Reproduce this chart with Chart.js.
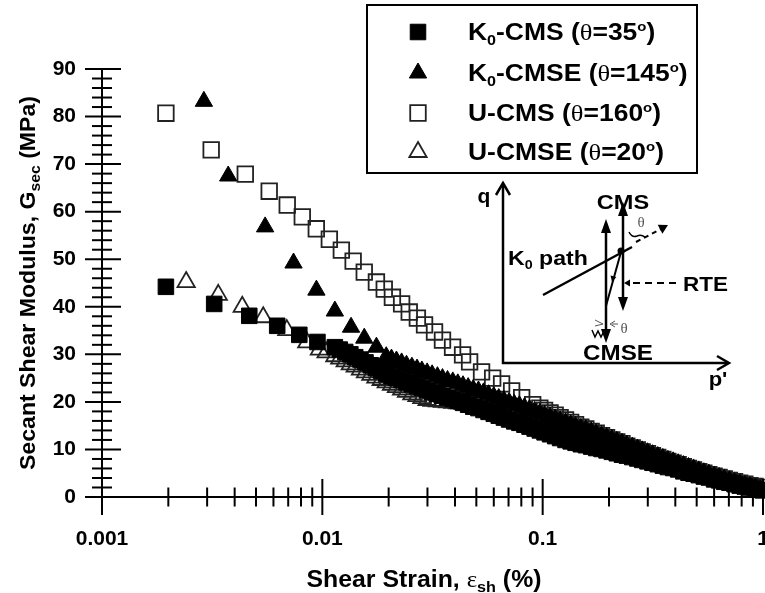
<!DOCTYPE html>
<html><head><meta charset="utf-8">
<script src="https://cdn.jsdelivr.net/npm/chart.js"></script>
<style>html,body{margin:0;padding:0;background:#fff}#wrap{width:765px;height:593px}</style>
</head><body><div id="wrap"><canvas id="c" width="765" height="593"></canvas></div>
<script>
const FAM = '"Liberation Sans", Arial, Helvetica, sans-serif';
const SERIF = '"Liberation Serif", "DejaVu Serif", serif';

// ---- Data (shear strain in %, secant shear modulus in MPa) ----
const strainK0CMS = [0.00195,0.00323,0.00466,0.00624,0.00786,0.0095,
  0.0114,0.0120,0.0127,0.0134,0.0141,0.0149,0.0157,0.0166,0.0175,0.0185,0.0195,0.0206,0.0217,0.0229,0.0241,0.0255,0.0269,0.0283,0.0299,0.0315,
  0.0333,0.0351,0.0370,0.0391,0.0412,0.0435,0.0459,0.0484,0.0511,0.0539,0.0568,0.0600,0.0632,0.0667,0.0704,0.0743,0.0784,0.0827,0.0872,0.0920,
  0.0971,0.102,0.108,0.114,0.120,0.127,0.134,0.141,0.149,0.157,0.166,0.175,0.185,0.195,0.206,0.217,0.229,0.241,0.255,0.269,
  0.283,0.299,0.315,0.333,0.351,0.370,0.391,0.412,0.435,0.459,0.484,0.511,0.539,0.568,0.600,0.632,0.667,0.704,0.743,0.784,
  0.827,0.872,0.920,0.971,1.0];
const gK0CMS = [44.2,40.6,38.1,36.0,34.1,32.6,
  31.5,31.0,30.5,30.0,29.4,28.9,28.3,27.7,27.1,26.5,
  25.9,25.4,25.0,24.6,24.1,23.7,23.3,22.9,22.5,22.1,
  21.7,21.3,20.9,20.6,20.2,19.8,19.4,19.0,18.7,18.3,
  17.9,17.5,17.1,16.7,16.3,15.9,15.6,15.2,14.8,14.4,
  14.0,13.6,13.2,12.8,12.4,12.0,11.7,11.4,11.1,10.9,
  10.6,10.3,10.1,9.8,9.5,9.2,8.9,8.7,8.4,8.1,
  7.8,7.5,7.2,6.9,6.6,6.3,6.1,5.8,5.4,5.1,
  4.9,4.6,4.3,4.1,3.7,3.5,3.2,3.0,2.7,2.4,
  2.2,2.0,1.7,1.5,1.4];

const strainK0CMSE = [0.0029,0.00374,0.0055,0.0074,0.0094,0.0114,0.0135,0.0155,0.0176,
  0.0195,0.0206,0.0217,0.0229,0.0241,0.0255,0.0269,0.0283,0.0299,0.0315,
  0.0333,0.0351,0.0370,0.0391,0.0412,0.0435,0.0459,0.0484,0.0511,0.0539,
  0.0568,0.0600,0.0632,0.0667,0.0704,0.0743,0.0784,0.0827,0.0872,0.0920,
  0.0971,0.102,0.108,0.114,0.120,0.127,0.134,0.141,0.149,0.157,
  0.166,0.175,0.185,0.195,0.206,0.217,0.229,0.241,0.255,0.269,
  0.283,0.299,0.315,0.333,0.351,0.370,0.391,0.412,0.435,0.459,
  0.484,0.511,0.539,0.568,0.600,0.632,0.667,0.704,0.743,0.784,
  0.827,0.872,0.920,0.971];
const gK0CMSE = [83.2,67.5,56.8,49.2,43.5,39.1,35.7,33.4,31.5,
  29.5,29.0,28.6,28.2,27.7,27.3,26.9,26.5,26.1,25.7,
  25.3,24.9,24.5,24.2,23.8,23.4,23.0,22.6,22.3,21.9,
  21.5,21.1,20.7,20.3,19.9,19.5,19.2,18.8,18.4,18.0,
  17.6,17.2,16.8,16.4,16.0,15.6,15.2,14.8,14.4,14.1,
  13.7,13.3,12.9,12.5,12.1,11.7,11.3,10.9,10.5,10.1,
  9.7,9.3,8.9,8.5,8.1,7.7,7.4,7.0,6.6,6.2,
  5.9,5.5,5.1,4.8,4.4,4.1,3.7,3.4,3.0,2.7,
  2.4,2.1,1.8,1.5];

const strainUCMS = [0.00195,0.00313,0.00447,0.00574,0.00693,0.00811,0.00939,0.01076,0.0122,0.0138,
  0.0155,0.0176,0.0191,0.0208,0.0229,0.0248,0.027,0.0291,0.0323,0.0351,0.039,0.0433,0.0466,0.0528,
  0.0593,0.0651,0.0723,0.0803,0.0901,
  0.0971,0.102,0.108,0.114,0.120,0.127,0.134,0.141,0.149,0.157,
  0.166,0.175,0.185,0.195,0.206,0.217,0.229,0.241,0.255,0.269,
  0.283,0.299,0.315,0.333,0.351,0.370,0.391,0.412,0.435,0.459,
  0.484,0.511,0.539,0.568,0.600,0.632,0.667,0.704,0.743,0.784,
  0.827,0.872,0.920,0.971];
const gUCMS = [80.7,73.0,67.9,64.3,61.4,58.9,56.4,54.2,51.9,49.6,
  47.3,45.2,43.7,42.0,40.6,38.9,37.6,36.2,34.7,33.0,31.5,29.9,28.4,26.3,
  25.0,23.8,22.3,20.9,19.4,
  18.7,18.2,17.7,17.2,16.7,16.2,15.7,15.2,14.7,14.3,
  13.8,13.4,12.9,12.5,12.0,11.6,11.2,10.7,10.3,9.9,
  9.5,9.1,8.7,8.3,7.9,7.5,7.1,6.8,6.4,6.0,
  5.7,5.3,5.0,4.7,4.4,4.1,3.8,3.5,3.2,2.9,
  2.7,2.4,2.2,2.0];

const strainUCMSE = [0.00241,0.00337,0.00433,0.00539,0.0069,0.0085,0.0097,0.0104,
  0.0114,0.0120,0.0127,0.0134,0.0141,0.0149,0.0157,0.0166,0.0175,0.0185,
  0.0195,0.0206,0.0217,0.0229,0.0241,0.0255,0.0269,0.0283,0.0299,0.0315,
  0.0333,0.0351,0.0370,0.0391,0.0412,0.0435,0.0459,0.0484,0.0511,0.0539,
  0.0568,0.0600,0.0632,0.0667,0.0704,0.0743,0.0784,0.0827,0.0872,0.0920,
  0.0971,0.102,0.108,0.114,0.120,0.127,0.134,0.141,0.149,0.157,
  0.166,0.175,0.185,0.195,0.206,0.217,0.229,0.241,0.255,0.269,
  0.283,0.299,0.315,0.333,0.351,0.370,0.391,0.412,0.435,0.459,
  0.484,0.511,0.539,0.568,0.600,0.632,0.667,0.704,0.743,0.784,
  0.827,0.872,0.920,0.971];
const gUCMSE = [45.2,42.5,40.0,37.8,35.1,32.5,31.0,30.4,
  29.6,29.1,28.5,27.9,27.4,26.8,26.2,25.7,25.1,24.6,
  24.1,23.6,23.1,22.6,22.1,21.6,21.2,20.8,20.4,
  20.2,20.1,20.0,19.9,19.8,19.7,19.6,19.5,19.4,19.3,19.2,
  19.0,18.8,18.5,18.2,17.9,17.6,17.3,16.9,16.6,16.2,
  15.8,15.4,15.0,14.6,14.2,13.8,13.5,13.1,12.8,12.5,
  12.2,11.8,11.5,11.2,10.8,10.5,10.1,9.8,9.5,9.1,
  8.8,8.4,8.1,7.7,7.4,7.0,6.8,6.4,6.0,5.7,
  5.4,5.1,4.7,4.5,4.1,3.8,3.5,3.2,2.9,2.6,
  2.3,2.1,1.8,1.6];

// ---- Axes ----
const xMajorTicks = [0.001, 0.01, 0.1, 1];
const xTickLabels = ['0.001', '0.01', '0.1', '1'];
const yTickValues = [0, 10, 20, 30, 40, 50, 60, 70, 80, 90];
const yTickLabels = ['0', '10', '20', '30', '40', '50', '60', '70', '80', '90'];

// ---- Legend text ----
const legendPrefix = ['K', 'K', 'U', 'U'];
const legendSub = ['0', '0', '', ''];
const legendName = ['-CMS', '-CMSE', '-CMS', '-CMSE'];
const legendAngle = ['35', '145', '160', '20'];

const B = s => `bold ${s}px ${FAM}`;
const N = s => `${s}px ${SERIF}`;
const pts = (xs, ys) => xs.map((x, i) => ({x: x, y: ys[i]}));

function drawRuns(ctx, runs, x, y, align, sx) {
  sx = sx || 1;
  let total = 0;
  runs.forEach(r => { ctx.font = r.font; r.w = ctx.measureText(r.text).width; total += r.w; });
  const tw = total * sx;
  const start = align === 'center' ? x - tw / 2 : (align === 'right' ? x - tw : x);
  ctx.save(); ctx.translate(start, y); ctx.scale(sx, 1);
  ctx.textAlign = 'left'; ctx.textBaseline = 'alphabetic';
  let cx = 0;
  runs.forEach(r => { ctx.font = r.font; ctx.fillStyle = r.color || '#000'; ctx.fillText(r.text, cx, r.dy || 0); cx += r.w; });
  ctx.restore();
}
function line(ctx, x1, y1, x2, y2) { ctx.beginPath(); ctx.moveTo(x1, y1); ctx.lineTo(x2, y2); ctx.stroke(); }
function head(ctx, x1, y1, x2, y2, len, half, filled) {
  const a = Math.atan2(y2 - y1, x2 - x1);
  const bx = x2 - len * Math.cos(a), by = y2 - len * Math.sin(a);
  const px = -Math.sin(a) * half, py = Math.cos(a) * half;
  ctx.beginPath(); ctx.moveTo(bx + px, by + py); ctx.lineTo(x2, y2); ctx.lineTo(bx - px, by - py);
  if (filled) { ctx.closePath(); ctx.fill(); } else { ctx.stroke(); }
}

const datasetsStyle = [
  {pointStyle: 'rect', radius: 11, bg: '#000', border: '#000', bw: 1},
  {pointStyle: 'triangle', radius: 10, bg: '#000', border: '#000', bw: 1},
  {pointStyle: 'rect', radius: 11, bg: 'rgba(0,0,0,0)', border: '#222', bw: 1.8},
  {pointStyle: 'triangle', radius: 10, bg: 'rgba(0,0,0,0)', border: '#222', bw: 1.8}
];
const seriesData = [pts(strainK0CMS, gK0CMS), pts(strainK0CMSE, gK0CMSE), pts(strainUCMS, gUCMS), pts(strainUCMSE, gUCMSE)];
const seriesLabels = legendPrefix.map((p, i) => p + legendSub[i] + legendName[i] + ' (θ=' + legendAngle[i] + 'o)');

const decor = {
  id: 'decor',
  afterDraw(chart) {
    const ctx = chart.ctx, xs = chart.scales.x, ys = chart.scales.y;
    ctx.save();
    // crossing tick marks
    ctx.strokeStyle = '#000'; ctx.lineWidth = 2;
    const y0 = ys.getPixelForValue(0), x0 = xs.getPixelForValue(xMajorTicks[0]);
    xMajorTicks.forEach(v => { const p = xs.getPixelForValue(v); line(ctx, p, y0 - 18, p, y0 + 18); });
    xMajorTicks.slice(0, -1).forEach(d => { for (let k = 2; k <= 9; k++) { const p = xs.getPixelForValue(d * k); line(ctx, p, y0 - 9.5, p, y0 + 9.5); } });
    yTickValues.forEach(v => { const p = ys.getPixelForValue(v); line(ctx, x0 - 17, p, x0 + 19, p); });
    for (let v = 2; v < 90; v += 2) { if (v % 10) { const p = ys.getPixelForValue(v); line(ctx, x0 - 10, p, x0 + 10, p); } }

    // axis titles
    ctx.save(); ctx.translate(27, 283); ctx.rotate(-Math.PI / 2);
    drawRuns(ctx, [{text: 'Secant Shear Modulus, G', font: B(22)}, {text: 'sec', font: B(15), dy: 5}, {text: ' (MPa)', font: B(22)}], 0, 8, 'center', 1.05);
    ctx.restore();
    drawRuns(ctx, [{text: 'Shear Strain, ', font: B(23)}, {text: 'ε', font: N(23)}, {text: 'sh', font: B(15), dy: 5}, {text: ' (%)', font: B(23)}], 424, 587, 'center', 1.08);

    // legend
    ctx.fillStyle = '#fff'; ctx.fillRect(367, 5, 330, 168);
    ctx.strokeStyle = '#000'; ctx.lineWidth = 2; ctx.strokeRect(367, 5, 330, 168);
    const rowsY = [32, 73, 113, 152];
    datasetsStyle.forEach((s, i) => {
      ctx.fillStyle = s.bg; ctx.strokeStyle = s.border; ctx.lineWidth = s.bw;
      Chart.helpers.drawPoint(ctx, {pointStyle: s.pointStyle, radius: s.radius, borderWidth: s.bw, rotation: 0}, 418, rowsY[i]);
      const runs = [{text: legendPrefix[i], font: B(23)}];
      if (legendSub[i]) runs.push({text: legendSub[i], font: B(14), dy: 5});
      runs.push({text: legendName[i] + ' (', font: B(23)}, {text: 'θ', font: N(23)}, {text: '=' + legendAngle[i], font: B(23)}, {text: 'o', font: B(13), dy: -9}, {text: ')', font: B(23)});
      drawRuns(ctx, runs, 468, rowsY[i] + 8, 'left', 1.15);
    });

    // inset stress-path diagram
    ctx.strokeStyle = '#000'; ctx.fillStyle = '#000'; ctx.lineWidth = 2.5;
    line(ctx, 503, 364, 503, 185); head(ctx, 503, 364, 503, 183, 12, 7, false);
    line(ctx, 502, 363, 727, 363); head(ctx, 502, 363, 729, 363, 12, 7, false);
    line(ctx, 606, 226, 606, 336); head(ctx, 606, 300, 606, 219, 14, 5, true); head(ctx, 606, 260, 606, 343, 14, 5, true);
    line(ctx, 623, 209, 623, 304); head(ctx, 623, 260, 623, 202, 14, 5, true); head(ctx, 623, 260, 623, 311, 14, 5, true);
    line(ctx, 543, 295, 632, 247);
    ctx.lineWidth = 2; ctx.setLineDash([5, 4]); line(ctx, 636, 242, 661, 229); ctx.setLineDash([]);
    head(ctx, 636, 242, 668, 225, 9, 5, true);
    ctx.setLineDash([7, 5]); line(ctx, 633, 283, 678, 283); ctx.setLineDash([]);
    line(ctx, 621, 252, 606, 306);
    ctx.beginPath(); ctx.arc(621, 251, 3.5, 0, Math.PI * 2); ctx.fill();
    head(ctx, 632, 283, 624, 283, 6, 3.5, true);
    head(ctx, 614, 274, 612, 282, 6, 3, true);
    ctx.lineWidth = 1.5;
    ctx.beginPath(); ctx.moveTo(629, 232); ctx.quadraticCurveTo(632, 238, 637, 236); ctx.quadraticCurveTo(641, 234, 645, 237); ctx.stroke();
    ctx.beginPath(); ctx.moveTo(592, 330); ctx.lineTo(595, 337); ctx.lineTo(598, 331); ctx.lineTo(601, 337); ctx.lineTo(604, 331); ctx.stroke();
    ctx.strokeStyle = '#555'; ctx.fillStyle = '#555'; ctx.lineWidth = 1;
    line(ctx, 595, 320, 603, 324); line(ctx, 595, 326, 603, 324);
    line(ctx, 618, 324, 612, 324); head(ctx, 618, 324, 610, 324, 5, 3, false);
    drawRuns(ctx, [{text: 'θ', font: N(15), color: '#555'}], 641, 227, 'center');
    drawRuns(ctx, [{text: 'θ', font: N(15), color: '#555'}], 624, 333, 'center');
    drawRuns(ctx, [{text: 'q', font: B(21)}], 484, 203, 'center');
    drawRuns(ctx, [{text: "p'", font: B(21)}], 718, 386, 'center', 1.05);
    drawRuns(ctx, [{text: 'CMS', font: B(21)}], 623, 209, 'center', 1.12);
    drawRuns(ctx, [{text: 'CMSE', font: B(22)}], 618, 360, 'center', 1.1);
    drawRuns(ctx, [{text: 'K', font: B(21)}, {text: '0', font: B(13), dy: 4}, {text: ' path', font: B(21)}], 508, 265, 'left', 1.1);
    drawRuns(ctx, [{text: 'RTE', font: B(21)}], 683, 291, 'left', 1.07);
    ctx.restore();
  }
};

new Chart(document.getElementById('c'), {
  type: 'scatter',
  data: {
    datasets: seriesData.map((d, i) => ({
      label: seriesLabels[i], data: d,
      pointStyle: datasetsStyle[i].pointStyle, pointRadius: datasetsStyle[i].radius,
      backgroundColor: datasetsStyle[i].bg, borderColor: datasetsStyle[i].border, borderWidth: datasetsStyle[i].bw,
      showLine: false, clip: false
    }))
  },
  options: {
    responsive: false, animation: false, events: [], devicePixelRatio: 1,
    layout: {autoPadding: false, padding: {top: 69, right: 2, left: 0, bottom: 0}},
    plugins: {legend: {display: false}, tooltip: {enabled: false}},
    scales: {
      x: {
        type: 'logarithmic', min: 0.001, max: 1,
        afterBuildTicks: s => { s.ticks = xMajorTicks.map(v => ({value: v, major: true})); },
        afterFit: s => { s.height = 96; s.paddingLeft = 0; s.paddingRight = 0; },
        grid: {display: false, drawTicks: false},
        border: {display: true, color: '#000', width: 2},
        ticks: {autoSkip: false, maxRotation: 0, padding: 30, color: '#000', font: {family: FAM, size: 21, weight: 'bold'},
          callback: (v, i) => xTickLabels[i]}
      },
      y: {
        min: 0, max: 90,
        afterBuildTicks: s => { s.ticks = yTickValues.map(v => ({value: v})); },
        afterFit: s => { s.width = 102; s.paddingTop = 0; s.paddingBottom = 0; },
        grid: {display: false, drawTicks: false},
        border: {display: true, color: '#000', width: 2},
        ticks: {autoSkip: false, padding: 26, color: '#000', font: {family: FAM, size: 21, weight: 'bold'},
          callback: (v, i) => yTickLabels[i]}
      }
    }
  },
  plugins: [decor]
});
</script></body></html>
